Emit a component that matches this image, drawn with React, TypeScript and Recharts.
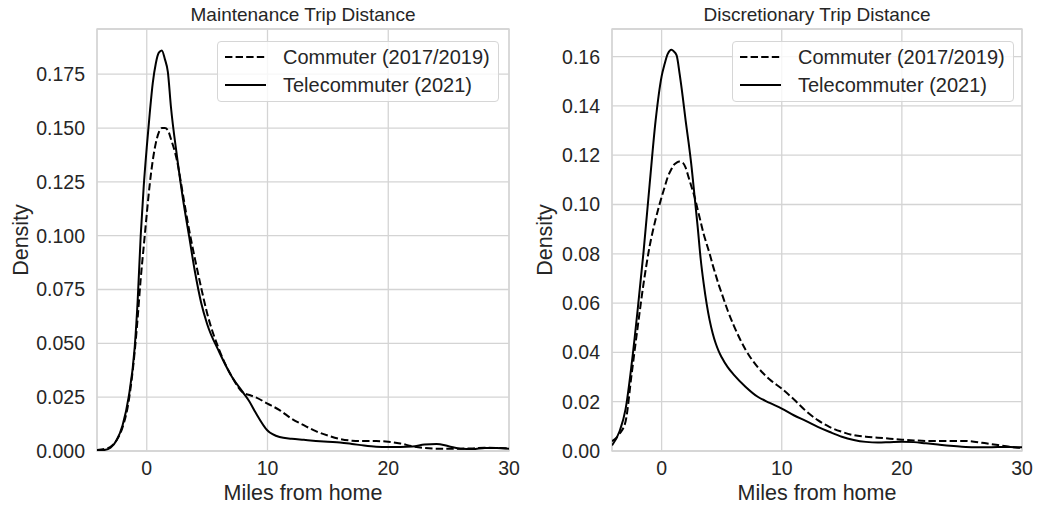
import React from 'react';
import { LineChart, Line, XAxis, YAxis, CartesianGrid, Legend, ReferenceArea } from 'recharts';

const FONT = '"Liberation Sans", Arial, "DejaVu Sans", sans-serif';
const TEXT = '#262626';
const GRID = '#d4d4d4';

// ---------- Maintenance Trip Distance ----------
const maintMiles = [
  -4.12, -3.5, -3, -2.5, -2, -1.5, -1, -0.75, -0.5, -0.25,
  0, 0.25, 0.5, 0.75, 1, 1.25, 1.5, 1.75, 2, 2.5,
  3, 3.5, 4, 4.5, 5, 6, 7, 8, 8.5, 9,
  10, 11, 12, 13, 14, 15, 16, 17, 18, 19, 20, 21, 22, 23, 24, 25, 26, 27, 28, 29, 30,
];
const maintCommuter = [
  0.0005, 0.001, 0.002, 0.005, 0.011, 0.023, 0.046, 0.062, 0.08, 0.095,
  0.11, 0.124, 0.135, 0.143, 0.148, 0.15, 0.15, 0.149, 0.145, 0.135,
  0.119, 0.103, 0.089, 0.076, 0.064, 0.047, 0.035, 0.027, 0.026, 0.025,
  0.022, 0.019, 0.015, 0.012, 0.0092, 0.0072, 0.0056, 0.0048, 0.0046, 0.0046, 0.0043,
  0.0035, 0.0022, 0.0014, 0.0011, 0.0011, 0.0011, 0.0012, 0.0015, 0.0014, 0.0012,
];
const maintTele = [
  0.0002, 0.0005, 0.0015, 0.005, 0.012, 0.025, 0.048, 0.07, 0.1, 0.123,
  0.141, 0.157, 0.171, 0.18, 0.185, 0.186, 0.182, 0.176, 0.16, 0.137,
  0.117, 0.1, 0.083, 0.069, 0.059, 0.046, 0.035, 0.027, 0.023, 0.018,
  0.0095, 0.0065, 0.0057, 0.0052, 0.0047, 0.0043, 0.004, 0.0033, 0.0025, 0.002, 0.0019,
  0.0019, 0.0021, 0.003, 0.0033, 0.0022, 0.001, 0.0009, 0.0014, 0.0014, 0.0011,
];
const maintYTicks = [0, 0.025, 0.05, 0.075, 0.1, 0.125, 0.15, 0.175];

// ---------- Discretionary Trip Distance ----------
const discMiles = [
  -4.13, -3.5, -3, -2.5, -2, -1.5, -1, -0.5, 0,
  0.25, 0.5, 0.83, 1, 1.25, 1.5, 1.75, 2, 2.25, 2.5,
  2.75, 3, 3.25, 3.5, 3.75, 4, 4.25, 4.5, 4.75, 5, 5.5, 6,
  7, 8, 9,
  10, 11, 12, 13, 14, 15, 16, 17, 18, 19, 20, 21, 22, 23, 24, 25, 26, 27, 28, 29, 30,
];
const discCommuter = [
  0.004, 0.007, 0.012, 0.031, 0.05, 0.068, 0.083, 0.094, 0.103,
  0.107, 0.111, 0.1145, 0.116, 0.117, 0.1174, 0.117, 0.115, 0.111, 0.107,
  0.103, 0.098, 0.093, 0.088, 0.084, 0.08, 0.0755, 0.0715, 0.0675, 0.064, 0.057, 0.051,
  0.041, 0.034, 0.029,
  0.0253, 0.021, 0.0163, 0.0125, 0.0097, 0.0078, 0.0064, 0.0058, 0.0054, 0.005, 0.0046,
  0.0043, 0.0041, 0.0041, 0.0041, 0.0041, 0.0038, 0.0031, 0.0024, 0.0017, 0.0012,
];
const discTele = [
  0.0023, 0.008, 0.017, 0.035, 0.057, 0.081, 0.108, 0.134, 0.152,
  0.157, 0.161, 0.1628, 0.1622, 0.1605, 0.153, 0.144, 0.134, 0.125, 0.115,
  0.103, 0.091, 0.078, 0.068, 0.0597, 0.053, 0.0478, 0.0437, 0.0405, 0.038, 0.034, 0.031,
  0.026, 0.022, 0.0195,
  0.0172, 0.0145, 0.0122, 0.0098, 0.0077, 0.0058, 0.0045, 0.0037, 0.0034, 0.0036, 0.0038,
  0.0036, 0.0031, 0.0026, 0.0021, 0.0017, 0.0015, 0.0015, 0.0016, 0.0016, 0.0015,
];
const discYTicks = [0, 0.02, 0.04, 0.06, 0.08, 0.1, 0.12, 0.14, 0.16];

const xTicks = [0, 10, 20, 30];
const seriesNames = ['Commuter (2017/2019)', 'Telecommuter (2021)'];

type Row = { x: number; commuter: number; tele: number };
const buildRows = (xs: number[], c: number[], t: number[]): Row[] =>
  xs.map((x, i) => ({ x, commuter: c[i], tele: t[i] }));

const DASH = '7.4 3.2';

type PanelProps = {
  left: number;
  width: number;
  title: string;
  rows: Row[];
  xMin: number;
  yMax: number;
  yTicks: number[];
  decimals: number;
  yAxisWidth: number;
  marginRight: number;
  legendLeft: number;
  densityX: number;
};

function LegendBox({ width }: { width: number }) {
  return (
    <div
      style={{
        width,
        height: 61,
        boxSizing: 'border-box',
        border: '1px solid #d6d6d6',
        borderRadius: 4,
        background: 'rgba(255,255,255,0.8)',
        position: 'relative',
        fontFamily: FONT,
        fontSize: 20,
        color: TEXT,
      }}
    >
      {seriesNames.map((name, i) => (
        <div key={name} style={{ position: 'absolute', left: 0, top: 1 + 28 * i, height: 28, width: '100%' }}>
          <svg width={60} height={28} style={{ position: 'absolute', left: 0, top: 0 }}>
            <line
              x1={7}
              x2={48}
              y1={14}
              y2={14}
              stroke="#000"
              strokeWidth={2}
              strokeDasharray={i === 0 ? DASH : undefined}
            />
          </svg>
          <span style={{ position: 'absolute', left: 65, top: 0, lineHeight: '28px', whiteSpace: 'nowrap' }}>{name}</span>
        </div>
      ))}
    </div>
  );
}

function Panel(p: PanelProps) {
  const plotLeft = p.yAxisWidth;
  const plotRight = p.width - p.marginRight;
  const tickStyle = { fill: TEXT, fontSize: 19.5, fontFamily: FONT };
  return (
    <div style={{ position: 'absolute', left: p.left, top: 0, width: p.width, height: 508 }}>
      <div
        style={{
          position: 'absolute',
          left: plotLeft,
          width: plotRight - plotLeft,
          top: 5,
          textAlign: 'center',
          fontFamily: FONT,
          fontSize: 19,
          lineHeight: '20px',
          color: TEXT,
          whiteSpace: 'nowrap',
        }}
      >
        {p.title}
      </div>
      <LineChart
        width={p.width}
        height={508}
        data={p.rows}
        margin={{ top: 29, right: p.marginRight, bottom: 0, left: 0 }}
        style={{ position: 'absolute', left: 0, top: 0 }}
      >
        <CartesianGrid stroke={GRID} strokeWidth={1.3} />
        <ReferenceArea
          x1={p.xMin}
          x2={30}
          y1={0}
          y2={p.yMax}
          fill="none"
          stroke={GRID}
          strokeWidth={1.3}
          ifOverflow="visible"
        />
        <XAxis
          dataKey="x"
          type="number"
          domain={[p.xMin, 30]}
          ticks={xTicks}
          allowDataOverflow
          height={57}
          tickSize={0}
          tickMargin={10}
          axisLine={false}
          tick={tickStyle}
          label={{
            value: 'Miles from home',
            position: 'insideBottom',
            offset: 8,
            fill: TEXT,
            fontSize: 21.5,
            fontFamily: FONT,
          }}
        />
        <YAxis
          type="number"
          domain={[0, p.yMax]}
          ticks={p.yTicks}
          allowDataOverflow
          tickFormatter={(v: number) => v.toFixed(p.decimals)}
          width={p.yAxisWidth}
          tickSize={0}
          tickMargin={12}
          axisLine={false}
          tick={tickStyle}
          label={{
            content: (lp: any) => {
              const vb = lp.viewBox || { x: 0, y: 29, width: p.yAxisWidth, height: 422 };
              const cx = vb.x + p.densityX;
              const cy = vb.y + vb.height / 2;
              return (
                <text
                  x={cx}
                  y={cy}
                  transform={`rotate(-90 ${cx} ${cy})`}
                  textAnchor="middle"
                  dominantBaseline="central"
                  fill={TEXT}
                  fontSize={21.5}
                  fontFamily={FONT}
                >
                  Density
                </text>
              );
            },
          }}
        />
        <Line
          dataKey="commuter"
          name={seriesNames[0]}
          type="monotone"
          stroke="#000"
          strokeWidth={2}
          strokeDasharray={DASH}
          dot={false}
          activeDot={false}
          isAnimationActive={false}
        />
        <Line
          dataKey="tele"
          name={seriesNames[1]}
          type="monotone"
          stroke="#000"
          strokeWidth={2}
          dot={false}
          activeDot={false}
          isAnimationActive={false}
        />
        <Legend
          layout="horizontal"
          verticalAlign="middle"
          align="center"
          wrapperStyle={{ left: p.legendLeft, top: 41, width: 282, height: 61 }}
          content={() => <LegendBox width={282} />}
        />
      </LineChart>
    </div>
  );
}

export default function App() {
  const maintRows = buildRows(maintMiles, maintCommuter, maintTele);
  const discRows = buildRows(discMiles, discCommuter, discTele);
  return (
    <div style={{ position: 'absolute', left: 0, top: 0, width: 1037, height: 508, background: '#fff' }}>
      <Panel
        left={0}
        width={520}
        title="Maintenance Trip Distance"
        rows={maintRows}
        xMin={-4.12}
        yMax={0.196}
        yTicks={maintYTicks}
        decimals={3}
        yAxisWidth={97}
        marginRight={11}
        legendLeft={217}
        densityX={21}
      />
      <Panel
        left={520}
        width={517}
        title="Discretionary Trip Distance"
        rows={discRows}
        xMin={-4.13}
        yMax={0.1712}
        yTicks={discYTicks}
        decimals={2}
        yAxisWidth={92}
        marginRight={15}
        legendLeft={212}
        densityX={25}
      />
    </div>
  );
}
